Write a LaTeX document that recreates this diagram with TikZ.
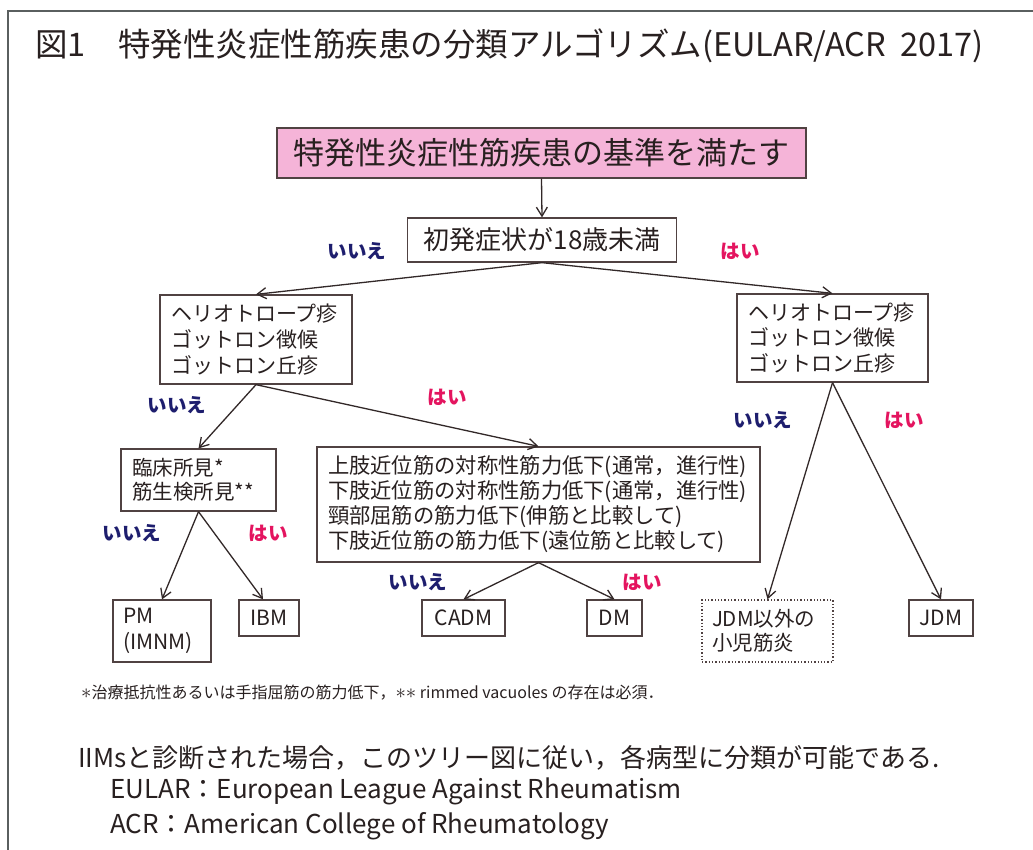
\documentclass[tikz,border=0pt]{standalone}
\usepackage{fontspec}
\setmainfont{Noto Sans CJK JP}
\usetikzlibrary{arrows.meta}
\definecolor{pinkfill}{RGB}{245,180,216}
\definecolor{boxline}{RGB}{80,66,66}
\definecolor{arr}{RGB}{50,40,40}
\definecolor{nocol}{RGB}{30,30,110}
\definecolor{yescol}{RGB}{228,20,95}
\definecolor{framecol}{RGB}{90,95,95}
\definecolor{txt}{RGB}{40,32,32}
\newcommand{\bigast}{{\fontsize{22}{22}\selectfont$\ast$}}
\tikzset{
  box/.style={draw=boxline, line width=1.3pt, inner ysep=0pt, inner xsep=0pt, text=txt},
  lbox/.style={box, align=left, inner xsep=11pt},
  smallbox/.style={box, minimum height=36pt, font=\fontsize{21}{25}\selectfont},
  boxtext/.style={font=\fontsize{21}{25.7}\selectfont},
  arrow/.style={draw=arr, line width=1.3pt, -{Straight Barb[length=9pt,width=11pt,line width=1.3pt]}},
  nolab/.style={text=nocol, font=\fontsize{19.5}{22}\selectfont\bfseries, inner sep=0pt},
  yeslab/.style={text=yescol, font=\fontsize{19.5}{22}\selectfont\bfseries, inner sep=0pt},
  plain/.style={text=txt, inner sep=0pt, anchor=west}
}
\begin{document}
\begin{tikzpicture}[x=1pt,y=-1pt]
\useasboundingbox (0,0) rectangle (1033,849);
\clip (0,0) rectangle (1033,849);
\fill[white] (0,0) rectangle (1033,849);
\draw[framecol, line width=2pt] (8,870) -- (8,11) -- (1050,11);

% title
\node[plain, font=\fontsize{32.5}{36}\selectfont] (title) at (35,46) {図1　特発性炎症性筋疾患の分類アルゴリズム(EULAR/ACR\ \ 2017)};

% boxes
\node[box, fill=pinkfill, minimum width=529pt, minimum height=50pt, font=\fontsize{31}{36}\selectfont] (top) at (541.5,153) {特発性炎症性筋疾患の基準を満たす};
\node[box, minimum width=269pt, minimum height=44pt, font=\fontsize{26}{30}\selectfont] (q1) at (542,240) {初発症状が18歳未満};

\node[lbox, boxtext, text width=170pt, minimum height=89pt] (L1) at (256,339.5) {ヘリオトロープ疹\\ゴットロン徴候\\ゴットロン丘疹};
\node[lbox, boxtext, text width=169pt, minimum height=88pt] (R1) at (832.5,338) {ヘリオトロープ疹\\ゴットロン徴候\\ゴットロン丘疹};

\node[lbox, font=\fontsize{20.5}{24}\selectfont, text width=133pt, minimum height=62pt] (L2) at (198.5,480) {臨床所見*\\筋生検所見**};
\node[lbox, font=\fontsize{21.3}{25}\selectfont, text width=421pt, minimum height=115pt] (M2) at (538.5,504.5) {上肢近位筋の対称性筋力低下(通常，進行性)\\下肢近位筋の対称性筋力低下(通常，進行性)\\頸部屈筋の筋力低下(伸筋と比較して)\\下肢近位筋の筋力低下(遠位筋と比較して)};

\node[lbox, font=\fontsize{21}{26}\selectfont, inner xsep=10pt, text width=78pt, minimum height=62pt] (PM) at (162,631) {PM\\(IMNM)};
\node[smallbox, minimum width=60pt] (IBM) at (269,618) {IBM};
\node[smallbox, minimum width=83pt] (CADM) at (463.5,618) {CADM};
\node[smallbox, minimum width=55pt] (DM) at (614.5,618) {DM};
\node[lbox, dotted, font=\fontsize{20.5}{24}\selectfont, inner xsep=10pt, text width=111pt, minimum height=62pt] (JDMo) at (767.5,631) {JDM以外の\\小児筋炎};
\node[smallbox, minimum width=64pt] (JDM) at (941,618) {JDM};

% connectors
\draw[arrow] (top.south) -- (q1.north);
\draw[arrow] (q1.south) -- (L1.north);
\draw[arrow] (q1.south) -- (R1.north);
\draw[arrow] (L1.south) -- (L2.north);
\draw[arrow] (L1.south) -- (M2.north);
\draw[arrow] (L2.south) -- (PM.north);
\draw[arrow] (L2.south) -- ([xshift=-6pt]IBM.north);
\draw[arrow] (M2.south) -- (CADM.north);
\draw[arrow] (M2.south) -- (DM.north);
\draw[arrow] (R1.south) -- (JDMo.north);
\draw[arrow] (R1.south) -- (JDM.north);

% labels
\node[nolab] (n1) at (357,251) {いいえ};
\node[yeslab] (y1) at (740,251) {はい};
\node[nolab] (n2) at (177,405) {いいえ};
\node[yeslab] (y2) at (447,397) {はい};
\node[nolab] (n3) at (132,533) {いいえ};
\node[yeslab] (y3) at (268,533) {はい};
\node[nolab] (n4) at (418,582) {いいえ};
\node[yeslab] (y4) at (642,582) {はい};
\node[nolab] (n5) at (763,420) {いいえ};
\node[yeslab] (y5) at (904,420) {はい};

% footnote
\node[plain, font=\fontsize{16}{18}\selectfont] (foot) at (81,693) {\bigast 治療抵抗性あるいは手指屈筋の筋力低下，\bigast\bigast\ rimmed vacuoles の存在は必須．};

% bottom text
\node[plain, font=\fontsize{26}{30}\selectfont] (b1) at (78,758) {IIMsと診断された場合，このツリー図に従い，各病型に分類が可能である.};
\node[plain, font=\fontsize{26}{30}\selectfont] (b2) at (110,791) {EULAR：European League Against Rheumatism};
\node[plain, font=\fontsize{26}{30}\selectfont] (b3) at (110,826) {ACR：American College of Rheumatology};
\end{tikzpicture}
\end{document}
